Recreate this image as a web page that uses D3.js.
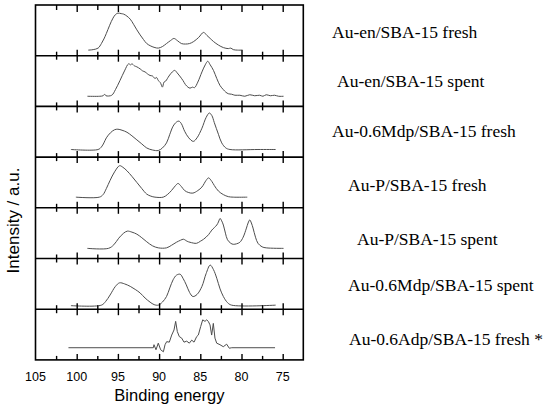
<!DOCTYPE html>
<html><head><meta charset="utf-8">
<script src="https://cdn.jsdelivr.net/npm/d3@7"></script>
<style>body{margin:0;background:#fff}svg{display:block}</style>
</head><body>
<svg id="chart" width="550" height="407"></svg>
<script>
// ---- data (binding energy eV, intensity a.u. scaled 0-100 per panel) ----
const sampleLabels = ["Au-en/SBA-15 fresh","Au-en/SBA-15 spent","Au-0.6Mdp/SBA-15 fresh","Au-P/SBA-15 fresh","Au-P/SBA-15 spent","Au-0.6Mdp/SBA-15 spent","Au-0.6Adp/SBA-15 fresh *"];
const majorTicks = [105,100,95,90,85,80,75];
const minorTicks = [102.5,97.5,92.5,87.5,82.5,77.5];
const auEnFresh = [[98.6,11],[98.0,12],[97.4,15],[97.0,24],[96.7,33],[96.4,44],[96.0,60],[95.6,74],[95.3,81],[95.0,84],[94.6,83],[94.3,82],[93.9,78],[93.5,72],[93.1,62],[92.7,51],[92.3,41],[91.9,32],[91.5,24],[91.0,19],[90.5,16],[90.1,15],[89.6,18],[89.1,24],[88.6,30],[88.2,34],[87.8,30],[87.3,24],[86.8,23],[86.3,24],[85.8,28],[85.2,36],[84.6,46],[84.2,40],[83.8,34],[83.4,28],[82.8,21],[82.2,16],[81.6,14],[81.3,15],[81.0,12],[80.5,11],[80.0,11]];
const auEnSpent = [[98.7,20],[97.2,20],[96.8,21],[96.6,24],[96.45,21],[95.75,22],[95.3,33],[94.75,51],[94.2,70],[93.7,84],[93.45,82],[93.3,84],[93.0,80],[92.7,78],[92.3,74],[92.0,70],[91.7,68],[91.4,64],[91.1,61],[90.8,60],[90.5,55],[90.3,57],[90.1,51],[89.85,47],[89.6,38],[89.4,48],[89.2,50],[88.8,60],[88.4,68],[88.1,71],[87.8,66],[87.5,60],[87.1,51],[86.8,43],[86.5,38],[86.25,36],[85.95,38],[85.7,37],[85.3,48],[84.8,68],[84.4,82],[84.1,89],[83.8,82],[83.4,71],[83.0,55],[82.6,41],[82.2,33],[81.9,28],[81.6,25],[81.2,24],[80.8,22],[80.2,22],[79.6,20],[79.0,23],[78.4,21],[77.8,22],[77.4,20],[77.0,23],[76.5,21],[76.0,22],[75.5,20],[74.9,20]];
const auMdpFresh = [[100.7,15],[97.4,15],[97.0,20],[96.7,28],[96.4,38],[95.9,48],[95.4,54],[95.0,55],[94.5,53],[93.9,49],[93.3,42],[92.7,34],[92.1,26],[91.5,18],[90.8,14],[90.1,13],[89.6,18],[89.1,28],[88.7,45],[88.3,61],[87.9,69],[87.6,71],[87.3,66],[86.9,51],[86.4,38],[85.85,31],[85.4,38],[84.8,57],[84.3,78],[83.9,87],[83.6,82],[83.3,68],[82.8,45],[82.4,28],[81.9,18],[81.4,15],[78.0,15],[75.85,15]];
const auPFresh = [[100.1,21],[97.25,21],[96.8,26],[96.4,38],[95.95,54],[95.4,71],[94.8,83],[94.4,80],[93.9,73],[93.3,62],[92.7,50],[92.1,38],[91.5,27],[91.0,23],[90.5,21],[89.5,21],[89.0,26],[88.5,34],[88.0,44],[87.7,48],[87.3,42],[86.9,34],[86.4,30],[85.9,29],[85.3,34],[84.8,41],[84.3,54],[84.0,59],[83.6,52],[83.3,44],[82.8,33],[82.2,26],[81.6,22],[81.0,21],[79.3,21]];
const auPSpent = [[98.7,20],[96.15,20],[95.5,27],[94.9,40],[94.3,50],[93.85,54],[93.3,52],[92.7,48],[92.1,41],[91.5,33],[90.8,25],[90.1,21],[89.1,21],[88.5,26],[87.9,32],[87.4,36],[87.05,38],[86.6,34],[86.25,32],[85.45,30],[85.0,34],[84.6,38],[84.0,47],[83.6,56],[83.0,66],[82.8,72],[82.6,79],[82.4,74],[82.2,66],[81.95,50],[81.7,37],[81.3,30],[81.0,28],[80.6,29],[80.2,32],[79.8,42],[79.4,60],[79.2,70],[79.0,76],[78.8,70],[78.6,60],[78.3,42],[78.0,30],[77.5,23],[77.0,21],[74.9,20]];
const auMdpSpent = [[100.7,7],[97.0,8],[96.5,15],[95.95,28],[95.3,45],[94.8,52],[94.2,50],[93.5,45],[92.9,39],[92.3,32],[91.7,22],[91.1,14],[90.6,9],[90.1,8],[89.6,14],[89.1,25],[88.7,42],[88.3,58],[87.9,67],[87.45,69],[87.1,61],[86.7,48],[86.3,33],[85.9,25],[85.4,29],[84.8,45],[84.3,70],[83.8,87],[83.4,78],[83.0,61],[82.6,40],[82.2,25],[81.7,13],[81.2,8],[75.85,8]];
const auAdpFresh = [[101.0,24],[90.7,24],[90.62,30],[90.38,20],[90.1,33],[89.81,20],[89.48,16],[89.28,30],[89.08,36],[88.76,35],[88.47,49],[88.19,59],[87.99,76],[87.79,56],[87.55,46],[87.26,43],[86.98,35],[86.65,37],[86.33,33],[86.04,39],[85.76,35],[85.44,46],[85.24,49],[84.95,66],[84.71,79],[84.43,76],[84.22,79],[84.03,76],[83.82,69],[83.62,49],[83.42,72],[83.22,43],[83.01,33],[82.61,30],[82.21,26],[81.8,31],[81.48,23],[81.19,24],[75.93,24]];
const seriesList = [auEnFresh, auEnSpent, auMdpFresh, auPFresh, auPSpent, auMdpSpent, auAdpFresh];
const noisy = [false,false,false,false,false,false,true];
const labelPos = [[332,38],[337,87],[332,137],[348,191],[357,245],[348,291],[349,345]];

// ---- layout ----
const svg = d3.select("#chart");
const plotL = 35.5, plotR = 303.3, plotT = 5, panelH = 50.7, nP = seriesList.length;
const plotB = plotT + panelH * nP;
const x = d3.scaleLinear().domain([105, 72.5]).range([plotL, plotR]);

seriesList.forEach((data, i) => {
  const pTop = plotT + i * panelH;
  const y = d3.scaleLinear().domain([0, 100]).range([pTop + panelH, pTop]);
  const line = d3.line().x(d => x(d[0])).y(d => y(d[1]))
    .curve(noisy[i] ? d3.curveLinear : d3.curveCatmullRom.alpha(0.5));
  svg.append("path").datum(data).attr("d", line)
    .attr("fill", "none").attr("stroke", "#4d4d4d").attr("stroke-width", 1);
  svg.append("text").attr("x", labelPos[i][0]).attr("y", labelPos[i][1])
    .attr("font-family", "'Liberation Serif','Times New Roman',serif")
    .attr("font-size", "17.5px").attr("fill", "#000").text(sampleLabels[i]);
});

// ticks at boundaries
function tickAxis(yPos, dir, majLen, minLen) {
  const g = svg.append("g").attr("transform", `translate(0,${yPos})`);
  const axM = (dir === "down" ? d3.axisBottom(x) : d3.axisTop(x)).tickValues(majorTicks.slice(1)).tickSize(majLen).tickFormat("");
  const axm = (dir === "down" ? d3.axisBottom(x) : d3.axisTop(x)).tickValues(minorTicks).tickSize(minLen).tickFormat("");
  g.append("g").call(axM);
  g.append("g").call(axm);
  g.selectAll(".domain").remove();
  g.selectAll("line").attr("stroke", "#000").attr("stroke-width", 1.4);
}
for (let b = 0; b <= nP; b++) {
  const yb = plotT + b * panelH;
  if (b < nP) tickAxis(yb, "down", b === 0 ? 7 : 6, b === 0 ? 5 : 4);
  if (b > 0) tickAxis(yb, "up", 6, 4);
}
// frame and separators
svg.append("rect").attr("x", plotL).attr("y", plotT).attr("width", plotR - plotL).attr("height", plotB - plotT)
  .attr("fill", "none").attr("stroke", "#000").attr("stroke-width", 1.6);
for (let b = 1; b < nP; b++) {
  svg.append("line").attr("x1", plotL).attr("x2", plotR).attr("y1", plotT + b * panelH).attr("y2", plotT + b * panelH)
    .attr("stroke", "#000").attr("stroke-width", 1.6);
}
// tick labels
svg.append("g").selectAll("text").data(majorTicks).join("text")
  .attr("x", d => x(d)).attr("y", 381).attr("text-anchor", "middle")
  .attr("font-family", "'Liberation Sans',Arial,sans-serif").attr("font-size", "12.5px").text(d => d);
svg.append("text").attr("x", (plotL + plotR) / 2).attr("y", 401).attr("text-anchor", "middle")
  .attr("font-family", "'Liberation Sans',Arial,sans-serif").attr("font-size", "16.5px").text("Binding energy");
svg.append("text").attr("transform", `translate(18.5,220.5) rotate(-90)`).attr("text-anchor", "middle")
  .attr("font-family", "'Liberation Sans',Arial,sans-serif").attr("font-size", "17px").text("Intensity / a.u.");
</script>
</body></html>
